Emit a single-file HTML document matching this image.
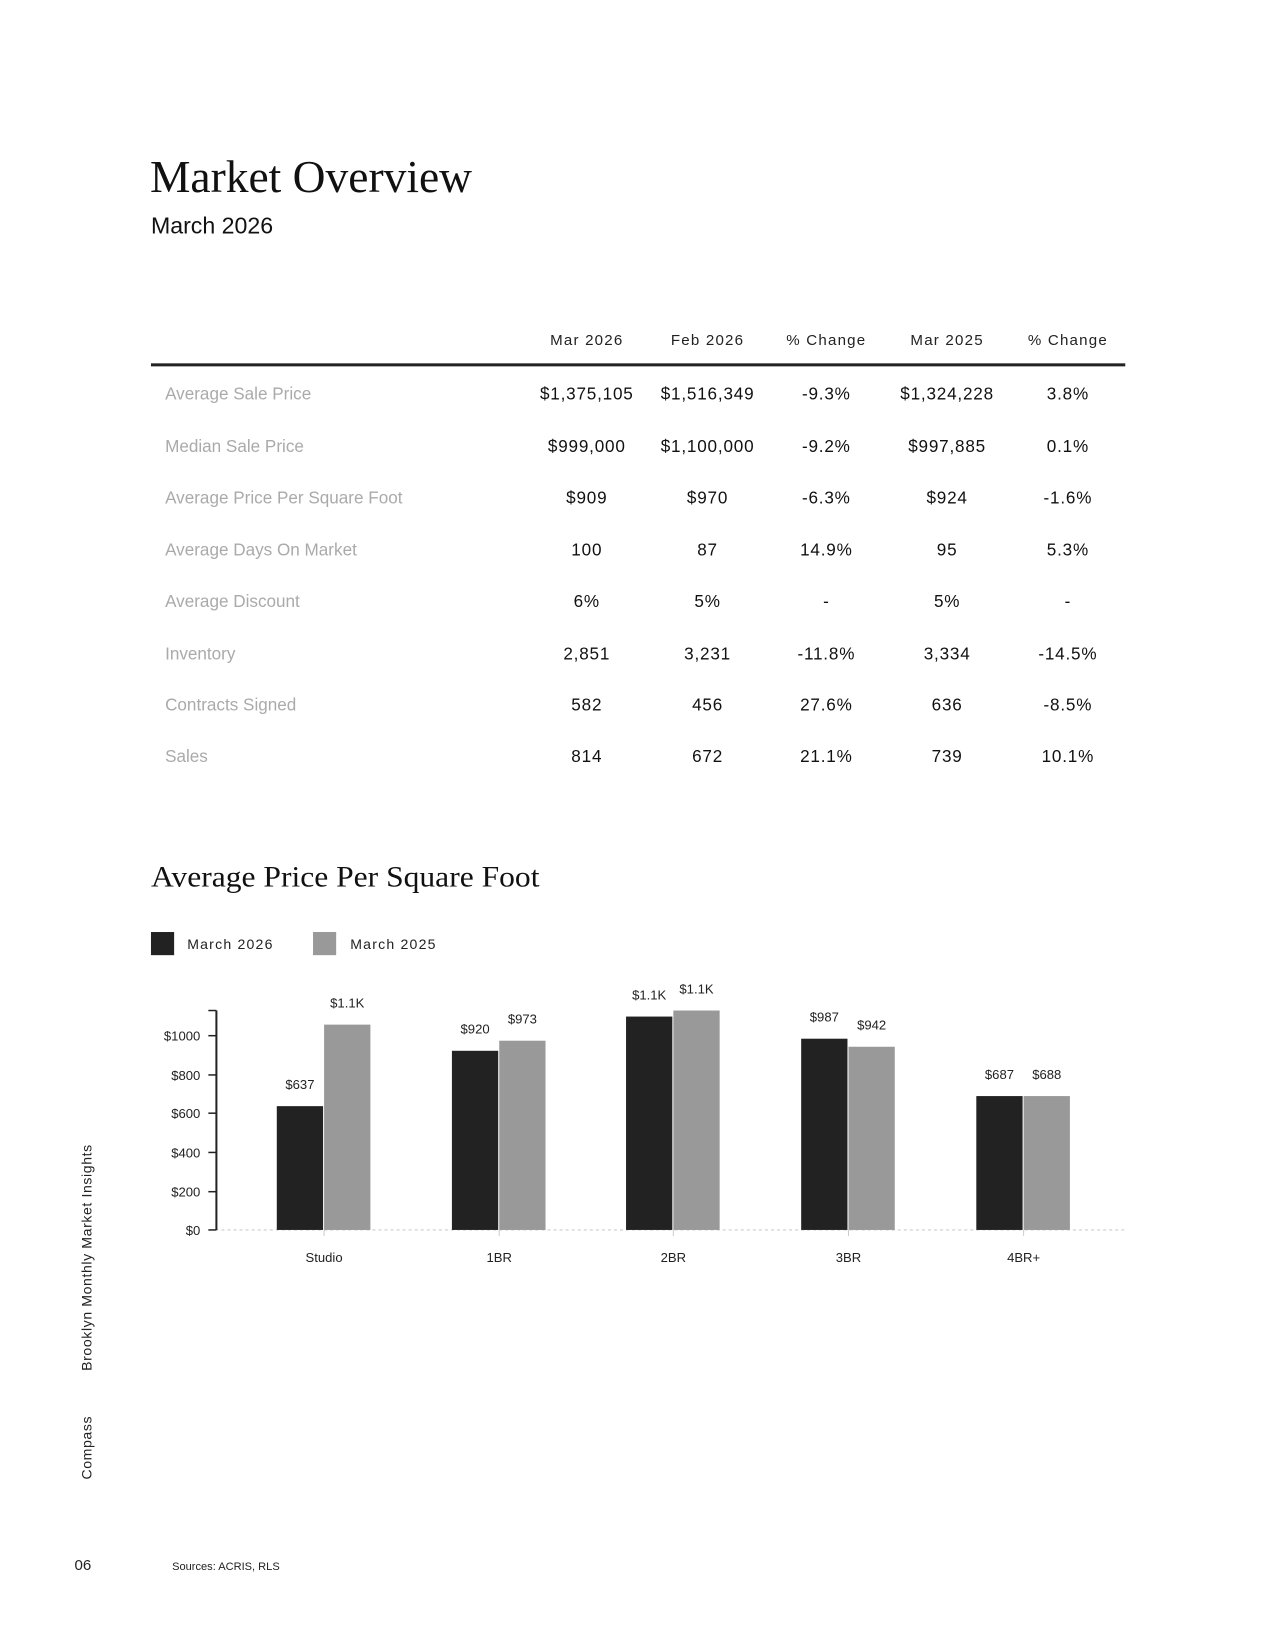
<!DOCTYPE html>
<html><head><meta charset="utf-8"><style>
html,body{margin:0;padding:0;background:#fff;}
svg{display:block;}
.s{font-family:"Liberation Sans",sans-serif;}
.serif{font-family:"Liberation Serif",serif;}
</style></head><body>
<svg width="1275" height="1650" viewBox="0 0 1275 1650" xmlns="http://www.w3.org/2000/svg">
<rect width="1275" height="1650" fill="#fff"/>
<g transform="scale(1.0065)">
<text class="serif" x="149" y="191" font-size="45" fill="#111" textLength="320" lengthAdjust="spacingAndGlyphs">Market Overview</text>
<text class="s" x="150" y="232" font-size="23" fill="#111">March 2026</text>

<g class="s" font-size="15" fill="#222" text-anchor="middle" letter-spacing="1.2">
<text x="583" y="343">Mar 2026</text>
<text x="703" y="343">Feb 2026</text>
<text x="821" y="343">% Change</text>
<text x="941" y="343">Mar 2025</text>
<text x="1061" y="343">% Change</text>
</g>
<rect x="150" y="361" width="968" height="3" fill="#222"/>

<g class="s" font-size="17" fill="#aaa">
<text x="164" y="397">Average Sale Price</text>
<text x="164" y="449">Median Sale Price</text>
<text x="164" y="500">Average Price Per Square Foot</text>
<text x="164" y="552">Average Days On Market</text>
<text x="164" y="603">Average Discount</text>
<text x="164" y="655">Inventory</text>
<text x="164" y="706">Contracts Signed</text>
<text x="164" y="757">Sales</text>
</g>
<g class="s" font-size="17" fill="#111" text-anchor="middle" letter-spacing="0.8">
<text x="583" y="397">$1,375,105</text><text x="703" y="397">$1,516,349</text><text x="821" y="397">-9.3%</text><text x="941" y="397">$1,324,228</text><text x="1061" y="397">3.8%</text>
<text x="583" y="449">$999,000</text><text x="703" y="449">$1,100,000</text><text x="821" y="449">-9.2%</text><text x="941" y="449">$997,885</text><text x="1061" y="449">0.1%</text>
<text x="583" y="500">$909</text><text x="703" y="500">$970</text><text x="821" y="500">-6.3%</text><text x="941" y="500">$924</text><text x="1061" y="500">-1.6%</text>
<text x="583" y="552">100</text><text x="703" y="552">87</text><text x="821" y="552">14.9%</text><text x="941" y="552">95</text><text x="1061" y="552">5.3%</text>
<text x="583" y="603">6%</text><text x="703" y="603">5%</text><text x="821" y="603">-</text><text x="941" y="603">5%</text><text x="1061" y="603">-</text>
<text x="583" y="655">2,851</text><text x="703" y="655">3,231</text><text x="821" y="655">-11.8%</text><text x="941" y="655">3,334</text><text x="1061" y="655">-14.5%</text>
<text x="583" y="706">582</text><text x="703" y="706">456</text><text x="821" y="706">27.6%</text><text x="941" y="706">636</text><text x="1061" y="706">-8.5%</text>
<text x="583" y="757">814</text><text x="703" y="757">672</text><text x="821" y="757">21.1%</text><text x="941" y="757">739</text><text x="1061" y="757">10.1%</text>
</g>

<text class="serif" x="150" y="881" font-size="29" fill="#111" textLength="386" lengthAdjust="spacingAndGlyphs">Average Price Per Square Foot</text>

<rect x="150" y="926" width="23" height="23" fill="#222"/>
<text class="s" x="186" y="943" font-size="14" fill="#222" letter-spacing="1.2">March 2026</text>
<rect x="311" y="926" width="23" height="23" fill="#999"/>
<text class="s" x="348" y="943" font-size="14" fill="#222" letter-spacing="1.2">March 2025</text>

<line x1="214" y1="1222" x2="1117" y2="1222" stroke="#ccc" stroke-width="1.2" stroke-dasharray="3,3"/>
<line x1="215" y1="1004" x2="215" y2="1222" stroke="#222" stroke-width="2"/>
<g stroke="#222" stroke-width="1.5">
<line x1="207" y1="1004" x2="215" y2="1004"/>
<line x1="207" y1="1029" x2="215" y2="1029"/>
<line x1="207" y1="1068" x2="215" y2="1068"/>
<line x1="207" y1="1106" x2="215" y2="1106"/>
<line x1="207" y1="1145" x2="215" y2="1145"/>
<line x1="207" y1="1184" x2="215" y2="1184"/>
<line x1="207" y1="1222" x2="215" y2="1222"/>
</g>
<g class="s" font-size="13" fill="#222" text-anchor="end">
<text x="199" y="1034">$1000</text>
<text x="199" y="1073">$800</text>
<text x="199" y="1111">$600</text>
<text x="199" y="1150">$400</text>
<text x="199" y="1189">$200</text>
<text x="199" y="1227">$0</text>
</g>

<g>
<rect x="275" y="1099" width="46" height="123" fill="#222"/><rect x="322" y="1018" width="46" height="204" fill="#999"/>
<rect x="449" y="1044" width="46" height="178" fill="#222"/><rect x="496" y="1034" width="46" height="188" fill="#999"/>
<rect x="622" y="1010" width="46" height="212" fill="#222"/><rect x="669" y="1004" width="46" height="218" fill="#999"/>
<rect x="796" y="1032" width="46" height="190" fill="#222"/><rect x="843" y="1040" width="46" height="182" fill="#999"/>
<rect x="970" y="1089" width="46" height="133" fill="#222"/><rect x="1017" y="1089" width="46" height="133" fill="#999"/>
</g>
<g class="s" font-size="13" fill="#222" text-anchor="middle">
<text x="298" y="1082">$637</text><text x="345" y="1001">$1.1K</text>
<text x="472" y="1027">$920</text><text x="519" y="1017">$973</text>
<text x="645" y="993">$1.1K</text><text x="692" y="987">$1.1K</text>
<text x="819" y="1015">$987</text><text x="866" y="1023">$942</text>
<text x="993" y="1072">$687</text><text x="1040" y="1072">$688</text>
</g>
<g stroke="#ccc" stroke-width="1">
<line x1="322" y1="1222" x2="322" y2="1228"/><line x1="496" y1="1222" x2="496" y2="1228"/><line x1="669" y1="1222" x2="669" y2="1228"/><line x1="843" y1="1222" x2="843" y2="1228"/><line x1="1017" y1="1222" x2="1017" y2="1228"/>
</g>
<g class="s" font-size="13" fill="#222" text-anchor="middle">
<text x="322" y="1254">Studio</text><text x="496" y="1254">1BR</text><text x="669" y="1254">2BR</text><text x="843" y="1254">3BR</text><text x="1017" y="1254">4BR+</text>
</g>

<g class="s" font-size="14" fill="#222">
<text transform="translate(91,1362) rotate(-90)" letter-spacing="0.6">Brooklyn Monthly Market Insights</text>
<text transform="translate(91,1470) rotate(-90)" letter-spacing="0.6">Compass</text>
</g>
<text class="s" x="74" y="1560" font-size="15" fill="#222">06</text>
<text class="s" x="171" y="1560" font-size="11" fill="#222">Sources: ACRIS, RLS</text>
</g>
</svg>
</body></html>
